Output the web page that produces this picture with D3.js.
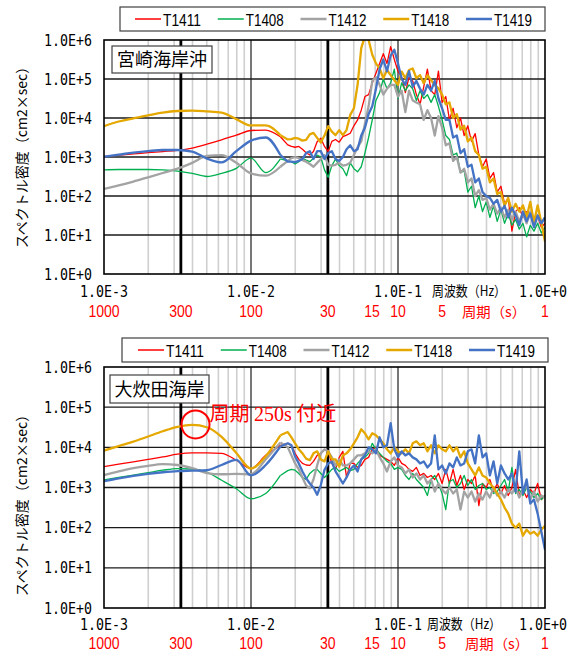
<!DOCTYPE html>
<html>
<head>
<meta charset="utf-8">
<script src="https://cdn.jsdelivr.net/npm/d3@7"></script>
<style>
    body { margin: 0; background: #fff; }
    svg { display: block; }
</style>
</head>
<body>
<script>
const width = 576
const height = 654

// frequency grid, log10(Hz)
const logFreq = [
    -3.0, -2.9, -2.8, -2.7, -2.6, -2.5, -2.4, -2.3, -2.2, -2.1, -2.0, -1.9, -1.8,
    -1.75, -1.725, -1.7, -1.675, -1.65, -1.625, -1.6, -1.575, -1.55, -1.525, -1.5, -1.475,
    -1.45, -1.425, -1.4, -1.375, -1.35, -1.325, -1.3, -1.275, -1.25, -1.225, -1.2, -1.175,
    -1.15, -1.125, -1.1, -1.075, -1.05, -1.025, -1.0, -0.975, -0.95, -0.925, -0.9, -0.875,
    -0.85, -0.825, -0.8, -0.775, -0.75, -0.725, -0.7, -0.675, -0.65, -0.625, -0.6, -0.575,
    -0.55, -0.525, -0.5, -0.475, -0.45, -0.425, -0.4, -0.375, -0.35, -0.325, -0.3, -0.275,
    -0.25, -0.225, -0.2, -0.175, -0.15, -0.125, -0.1, -0.075, -0.05, -0.025, 0
]
// the first 13 grid points are the smooth long-period part
const smoothCount = 13

const seriesNames = ["T1411", "T1408", "T1412", "T1418", "T1419"]
const seriesColors = ["#ff0000", "#00b050", "#a3a3a3", "#e5a800", "#4472c4"]

// 宮崎海岸沖 : log10 of spectral density (cm2 x sec)
const oki_T1411 = [
    3.01, 3.05, 3.08, 3.11, 3.14, 3.17, 3.23, 3.33, 3.44, 3.56, 3.68, 3.69, 3.52,
    3.31, 3.27, 3.25, 3.27, 3.20, 3.11, 3.05, 3.14, 3.39, 3.48, 3.27, 3.14,
    3.40, 3.45, 3.38, 3.52, 3.56, 3.61, 3.80, 3.95, 4.20, 4.55, 4.60, 4.90,
    5.15, 5.40, 5.65, 5.40, 5.83, 5.50, 5.20, 5.05, 4.65, 5.05, 4.95, 4.60,
    4.35, 4.80, 5.25, 4.70, 4.60, 5.20, 4.40, 4.55, 3.95, 4.25, 3.75, 4.00,
    3.55, 3.80, 3.40, 3.60, 3.05, 2.75, 2.95, 2.45, 2.60, 2.10, 2.25, 1.80,
    1.95, 1.10, 1.60, 1.70, 1.45, 1.60, 1.55, 1.30, 1.50, 1.20, 1.30
]
const oki_T1408 = [
    2.67, 2.68, 2.68, 2.68, 2.67, 2.64, 2.58, 2.50, 2.58, 2.71, 2.97, 2.60, 2.95,
    2.90, 2.88, 2.82, 2.88, 2.97, 2.92, 2.88, 2.97, 3.05, 3.00, 2.67, 2.48,
    2.78, 2.95, 2.78, 2.70, 2.52, 2.85, 2.70, 2.62, 2.75, 3.10, 3.50, 3.95,
    4.45, 4.65, 5.00, 4.75, 4.90, 5.25, 4.50, 4.90, 4.70, 4.85, 4.75, 4.45,
    4.70, 4.50, 4.60, 4.40, 4.60, 4.30, 3.95, 3.55, 3.45, 3.05, 3.10, 2.60,
    2.65, 2.10, 2.25, 1.70, 2.00, 1.60, 1.85, 1.45, 1.75, 1.35, 1.65, 1.30,
    1.55, 1.25, 1.40, 1.15, 1.30, 0.95, 1.25, 1.10, 1.30, 1.05, 1.20
]
const oki_T1412 = [
    2.18, 2.27, 2.37, 2.48, 2.59, 2.70, 2.85, 3.03, 3.05, 2.85, 2.58, 2.52, 2.75,
    2.90, 2.97, 3.00, 2.97, 2.92, 2.88, 2.82, 2.75, 2.85, 2.95, 3.05, 2.80,
    2.78, 2.80, 2.85, 2.78, 2.80, 2.85, 3.05, 3.25, 3.40, 3.85, 4.30, 4.95,
    5.05, 4.85, 4.60, 4.75, 4.85, 4.85, 4.55, 4.70, 4.15, 4.70, 4.45, 4.40,
    4.35, 3.95, 4.20, 4.00, 3.55, 4.05, 3.75, 3.30, 3.35, 2.90, 3.00, 2.60,
    2.70, 2.35, 2.45, 2.00, 2.15, 1.90, 1.95, 1.65, 1.80, 1.55, 1.70, 1.45,
    1.65, 1.40, 1.60, 1.35, 1.55, 1.30, 1.60, 1.35, 1.50, 1.30, 1.45
]
const oki_T1418 = [
    3.79, 3.91, 3.99, 4.07, 4.14, 4.18, 4.19, 4.17, 4.14, 3.97, 3.81, 3.81, 3.56,
    3.45, 3.46, 3.49, 3.47, 3.42, 3.44, 3.58, 3.62, 3.49, 3.37, 3.55, 3.79,
    3.65, 3.56, 3.69, 3.56, 3.69, 4.08, 4.25, 4.85, 5.79, 6.10, 6.00, 5.62,
    5.40, 5.27, 5.02, 5.23, 5.10, 4.97, 4.85, 5.19, 5.02, 5.23, 5.27, 5.02,
    5.10, 4.89, 5.10, 4.97, 4.85, 4.76, 4.60, 4.35, 4.40, 4.00, 4.10, 3.70,
    3.80, 3.40, 3.50, 3.15, 3.05, 2.70, 2.75, 2.35, 2.45, 2.05, 2.10, 1.75,
    1.95, 1.60, 1.80, 1.60, 1.76, 1.46, 1.85, 1.32, 1.76, 1.32, 0.83
]
const oki_T1419 = [
    3.01, 3.06, 3.11, 3.15, 3.18, 3.18, 3.14, 2.96, 2.86, 3.15, 3.42, 3.50, 3.05,
    2.88, 2.88, 2.87, 2.90, 2.95, 3.10, 3.15, 2.95, 3.15, 3.15, 2.95, 3.10,
    3.15, 2.95, 2.90, 3.00, 3.20, 3.30, 3.15, 3.20, 3.55, 3.75, 4.10, 4.30,
    4.75, 5.25, 5.50, 5.20, 5.60, 5.75, 5.40, 5.00, 4.85, 5.20, 4.80, 4.95,
    4.75, 4.60, 4.85, 4.70, 4.95, 4.50, 4.25, 3.95, 3.95, 3.50, 3.55, 3.10,
    3.20, 2.75, 2.80, 2.35, 2.45, 2.10, 2.00, 1.95, 1.80, 1.90, 1.60, 1.75,
    1.45, 1.70, 1.50, 1.25, 1.60, 1.35, 1.55, 1.20, 1.50, 1.30, 1.45
]

// 大炊田海岸
const oita_T1411 = [
    3.52, 3.58, 3.64, 3.70, 3.76, 3.83, 3.86, 3.86, 3.85, 3.68, 3.47, 3.80, 4.05,
    4.10, 4.05, 3.85, 3.70, 3.60, 3.56, 3.55, 3.65, 3.80, 3.85, 3.95, 3.90, 3.60,
    3.45, 3.75, 3.90, 3.25, 3.60, 3.60, 3.50, 3.55, 3.70, 3.75, 3.95, 4.00,
    3.80, 3.75, 3.70, 3.65, 3.55, 3.75, 3.60, 3.55, 3.45, 3.40, 3.50, 3.30,
    3.35, 3.25, 3.30, 3.20, 3.35, 3.10, 3.45, 3.10, 3.45, 3.05, 3.30, 2.95,
    3.20, 3.10, 3.30, 2.55, 3.10, 3.00, 3.20, 2.90, 3.10, 2.85, 3.05, 2.80,
    3.00, 3.45, 2.80, 2.95, 2.75, 2.95, 2.85, 3.10, 2.70, 2.80
]
const oita_T1408 = [
    3.19, 3.25, 3.31, 3.37, 3.43, 3.47, 3.46, 3.38, 3.18, 2.97, 2.72, 2.85, 3.30,
    3.42, 3.45, 3.43, 3.35, 3.25, 3.20, 3.35, 3.43, 3.45, 3.35, 3.25, 3.35, 3.45,
    3.50, 3.40, 3.45, 3.50, 3.42, 3.45, 3.60, 3.70, 3.75, 3.85, 4.10, 3.95,
    3.85, 3.75, 3.65, 3.60, 3.45, 3.50, 3.45, 3.30, 3.20, 3.35, 3.20, 3.10,
    3.00, 2.80, 3.20, 3.30, 3.10, 2.85, 2.45, 3.15, 3.20, 3.00, 3.10, 3.30,
    3.05, 3.20, 2.95, 3.05, 3.10, 2.95, 3.00, 2.85, 2.90, 3.05, 3.20, 2.90,
    3.50, 2.85, 2.95, 2.80, 3.00, 2.90, 2.75, 2.85, 2.70, 2.80
]
const oita_T1412 = [
    3.31, 3.40, 3.48, 3.54, 3.58, 3.56, 3.48, 3.36, 3.33, 3.34, 3.33, 3.70, 4.12,
    4.00, 3.80, 3.60, 3.45, 3.25, 3.05, 2.98, 3.20, 3.55, 3.85, 3.95, 3.90, 3.75,
    3.55, 3.70, 3.55, 3.55, 3.60, 3.70, 3.80, 3.80, 3.85, 3.90, 3.85, 3.95,
    3.75, 3.60, 3.40, 3.65, 3.75, 3.55, 3.50, 3.35, 3.45, 3.25, 3.35, 3.20,
    3.30, 3.10, 3.20, 2.90, 3.10, 2.95, 2.85, 3.00, 2.85, 2.95, 2.45, 2.90,
    2.75, 2.90, 2.65, 2.85, 2.70, 2.90, 2.75, 3.00, 2.80, 2.90, 2.75, 2.95,
    2.85, 3.00, 2.75, 2.95, 3.05, 2.70, 2.90, 2.65, 2.80, 2.75
]
const oita_T1418 = [
    3.92, 4.03, 4.14, 4.27, 4.40, 4.51, 4.56, 4.50, 4.26, 3.86, 3.47, 3.78, 4.30,
    4.38, 4.25, 4.10, 3.95, 3.85, 3.72, 3.68, 3.85, 3.90, 3.70, 3.65, 3.90, 3.70,
    3.70, 3.52, 3.80, 3.85, 3.95, 4.10, 4.25, 4.45, 4.35, 4.20, 4.35, 4.30,
    4.20, 4.10, 3.95, 3.85, 4.00, 3.90, 3.85, 3.95, 3.85, 4.10, 4.15, 4.05,
    4.10, 3.90, 4.05, 3.85, 4.05, 3.95, 3.90, 4.05, 3.90, 4.00, 3.75, 3.90,
    3.60, 3.45, 3.30, 3.50, 3.30, 3.25, 3.10, 3.00, 2.85, 2.70, 2.50, 2.35,
    2.10, 2.00, 2.10, 1.80, 1.95, 1.85, 1.90, 1.80, 1.95, 2.05
]
const oita_T1419 = [
    3.16, 3.23, 3.29, 3.34, 3.38, 3.41, 3.42, 3.43, 3.56, 3.69, 3.30, 3.56, 4.02,
    4.10, 4.05, 3.77, 3.60, 3.40, 3.23, 3.10, 3.00, 2.82, 3.06, 3.44, 3.60, 3.64,
    3.40, 3.25, 3.10, 3.25, 3.45, 3.55, 3.40, 3.70, 3.80, 4.00, 3.95, 3.85,
    4.25, 4.00, 4.05, 4.60, 3.95, 3.75, 3.90, 3.80, 3.85, 3.75, 3.70, 3.60,
    3.65, 3.50, 3.60, 4.30, 3.45, 3.55, 3.35, 3.60, 3.50, 3.75, 3.55, 3.60,
    3.90, 3.95, 3.60, 4.30, 3.75, 3.85, 3.30, 3.65, 3.10, 3.55, 3.35, 3.20,
    3.35, 2.90, 3.90, 2.85, 3.20, 2.60, 2.70, 2.35, 1.90, 1.45
]

const periodTicks = [1000, 300, 100, 30, 15, 10, 5, 1]
const periodLines = [300, 30]
const annotationPeriod = 250
const annotationLevel = 4.57

const panels = [
    {
        title: "宮崎海岸沖", data: [oki_T1411, oki_T1408, oki_T1412, oki_T1418, oki_T1419],
        top: 40, bottom: 274, yTitle: 154,
        legend: { x: 120, y: 7, w: 425, first: 135 },
        box: { x: 112, y: 46, w: 100, h: 27 },
        xLabelY: 297, periodY: 317, hzX: 432, secX: 462
    },
    {
        title: "大炊田海岸", data: [oita_T1411, oita_T1408, oita_T1412, oita_T1418, oita_T1419],
        top: 367, bottom: 608, yTitle: 502,
        legend: { x: 122, y: 338, w: 426, first: 138 },
        box: { x: 110, y: 375, w: 99, h: 28 },
        xLabelY: 630, periodY: 649, hzX: 427, secX: 465,
        annotate: true
    }
]

const monoFont = "'DejaVu Sans Mono', monospace"
const jpFont = "'Noto Sans CJK JP', sans-serif"
const latinFont = "'Liberation Sans', Arial, sans-serif"

const x = d3.scaleLog().domain([1e-3, 1]).range([104, 545])
const isDecade = v => Math.abs(Math.log10(v) - Math.round(Math.log10(v))) < 1e-6
const expLabel = v => d3.format(".1e")(v).toUpperCase()

const svg = d3.select("body")
    .append("svg")
    .attr("width", width)
    .attr("height", height)
    .style("font-family", jpFont)

svg.append("rect").attr("width", width).attr("height", height).attr("fill", "#fff")

panels.forEach((p, pi) => {
    const y = d3.scaleLog().domain([1, 1e6]).range([p.bottom, p.top])
    const g = svg.append("g")

    const xt = x.ticks()
    g.append("g")
        .selectAll("line")
        .data(xt.filter(v => !isDecade(v)))
        .join("line")
        .attr("x1", d => x(d)).attr("x2", d => x(d))
        .attr("y1", p.top).attr("y2", p.bottom)
        .attr("stroke", "#cfcfcf")
        .attr("stroke-width", 1.6)

    g.append("g")
        .selectAll("line")
        .data(xt.filter(v => isDecade(v) && v > 1e-3 && v < 1))
        .join("line")
        .attr("x1", d => x(d)).attr("x2", d => x(d))
        .attr("y1", p.top).attr("y2", p.bottom)
        .attr("stroke", "#555")
        .attr("stroke-width", 1.6)

    const yt = y.ticks().filter(isDecade)
    g.append("g")
        .selectAll("line")
        .data(yt.filter(v => v > 1 && v < 1e6))
        .join("line")
        .attr("x1", x.range()[0]).attr("x2", x.range()[1])
        .attr("y1", d => y(d)).attr("y2", d => y(d))
        .attr("stroke", "#1a1a1a")
        .attr("stroke-width", 1.4)

    g.append("g")
        .selectAll("line")
        .data(periodLines)
        .join("line")
        .attr("x1", d => x(1 / d)).attr("x2", d => x(1 / d))
        .attr("y1", p.top).attr("y2", p.bottom)
        .attr("stroke", "#000")
        .attr("stroke-width", 2.8)

    // spectra
    svg.append("clipPath")
        .attr("id", "clip" + pi)
        .append("rect")
        .attr("x", x.range()[0]).attr("y", p.top)
        .attr("width", x.range()[1] - x.range()[0])
        .attr("height", p.bottom - p.top)

    const smoothLine = d3.line()
        .x(d => x(Math.pow(10, d[0])))
        .y(d => y(Math.pow(10, d[1])))
        .curve(d3.curveMonotoneX)
    const rawLine = d3.line()
        .x(d => x(Math.pow(10, d[0])))
        .y(d => y(Math.pow(10, d[1])))

    const series = g.append("g")
        .attr("clip-path", `url(#clip${pi})`)
        .attr("fill", "none")
        .selectAll("g")
        .data(p.data)
        .join("g")
        .attr("stroke", (d, i) => seriesColors[i])
        .attr("stroke-width", (d, i) => (i < 2 ? 1.3 : 2.3))
        .attr("stroke-linejoin", "round")
    series.append("path")
        .attr("d", vals => smoothLine(logFreq.slice(0, smoothCount).map((f, i) => [f, vals[i]])))
    series.append("path")
        .attr("d", vals => rawLine(logFreq.map((f, i) => [f, vals[i]]).slice(smoothCount - 1)))

    g.append("rect")
        .attr("x", x.range()[0]).attr("y", p.top)
        .attr("width", x.range()[1] - x.range()[0])
        .attr("height", p.bottom - p.top)
        .attr("fill", "none")
        .attr("stroke", "#000")
        .attr("stroke-width", 1.6)

    // y tick labels
    g.append("g")
        .selectAll("text")
        .data(yt)
        .join("text")
        .attr("x", 92)
        .attr("y", d => y(d) + 5.5)
        .attr("text-anchor", "end")
        .attr("font-family", monoFont)
        .attr("font-size", 15)
        .attr("textLength", 48)
        .attr("lengthAdjust", "spacingAndGlyphs")
        .text(expLabel)

    // x tick labels
    g.append("g")
        .selectAll("text")
        .data(xt.filter(isDecade))
        .join("text")
        .attr("x", d => Math.min(x(d), 543) - 24)
        .attr("y", p.xLabelY)
        .attr("font-family", monoFont)
        .attr("font-size", 15)
        .attr("textLength", 48)
        .attr("lengthAdjust", "spacingAndGlyphs")
        .text(expLabel)

    g.append("text")
        .attr("x", p.hzX)
        .attr("y", p.xLabelY - 1)
        .attr("font-size", 14)
        .attr("textLength", 74)
        .attr("lengthAdjust", "spacingAndGlyphs")
        .text("周波数（Hz）")

    // period labels (red)
    g.append("g")
        .selectAll("text")
        .data(periodTicks)
        .join("text")
        .attr("x", d => x(1 / d))
        .attr("y", p.periodY)
        .attr("text-anchor", "middle")
        .attr("fill", "#ff0000")
        .attr("font-family", latinFont)
        .attr("font-size", 16)
        .attr("textLength", d => String(d).length * 7.8)
        .attr("lengthAdjust", "spacingAndGlyphs")
        .text(d => d)

    g.append("text")
        .attr("x", p.secX)
        .attr("y", p.periodY)
        .attr("fill", "#ff0000")
        .attr("font-size", 14)
        .attr("textLength", 64)
        .attr("lengthAdjust", "spacingAndGlyphs")
        .text("周期（s）")

    // y axis title
    g.append("text")
        .attr("transform", `translate(27,${p.yTitle}) rotate(-90)`)
        .attr("text-anchor", "middle")
        .attr("font-size", 14)
        .text("スペクトル密度（cm2×sec）")

    // station box
    g.append("rect")
        .attr("x", p.box.x).attr("y", p.box.y)
        .attr("width", p.box.w).attr("height", p.box.h)
        .attr("fill", "#fff")
        .attr("stroke", "#404040")
        .attr("stroke-width", 1.2)
    g.append("text")
        .attr("x", p.box.x + p.box.w / 2)
        .attr("y", p.box.y + p.box.h / 2 + 6.5)
        .attr("text-anchor", "middle")
        .attr("font-size", 18)
        .text(p.title)

    // legend
    const L = p.legend
    g.append("rect")
        .attr("x", L.x).attr("y", L.y)
        .attr("width", L.w).attr("height", 24)
        .attr("fill", "#fff")
        .attr("stroke", "#404040")
        .attr("stroke-width", 1.2)
    const item = g.append("g")
        .selectAll("g")
        .data(seriesNames)
        .join("g")
        .attr("transform", (d, i) => `translate(${L.first + i * 82.75},${L.y + 12})`)
    item.append("line")
        .attr("x2", 26)
        .attr("stroke", (d, i) => seriesColors[i])
        .attr("stroke-width", (d, i) => (i < 2 ? 1.5 : 2.5))
    item.append("text")
        .attr("x", 28)
        .attr("y", 6.5)
        .attr("font-family", latinFont)
        .attr("font-size", 16)
        .attr("textLength", 38)
        .attr("lengthAdjust", "spacingAndGlyphs")
        .text(d => d)

    if (p.annotate) {
        const cx = x(1 / annotationPeriod) + 3
        const cy = y(Math.pow(10, annotationLevel))
        g.append("circle")
            .attr("cx", cx).attr("cy", cy).attr("r", 14)
            .attr("fill", "none")
            .attr("stroke", "#ff0000")
            .attr("stroke-width", 2)
        const t = g.append("text")
            .attr("x", cx + 14)
            .attr("y", cy - 3)
            .attr("fill", "#ff0000")
            .attr("font-size", 20)
        t.append("tspan").text("周期 ")
        t.append("tspan").attr("font-family", "'Liberation Serif', serif").text("250s")
        t.append("tspan").text(" 付近")
    }
})
</script>
</body>
</html>
